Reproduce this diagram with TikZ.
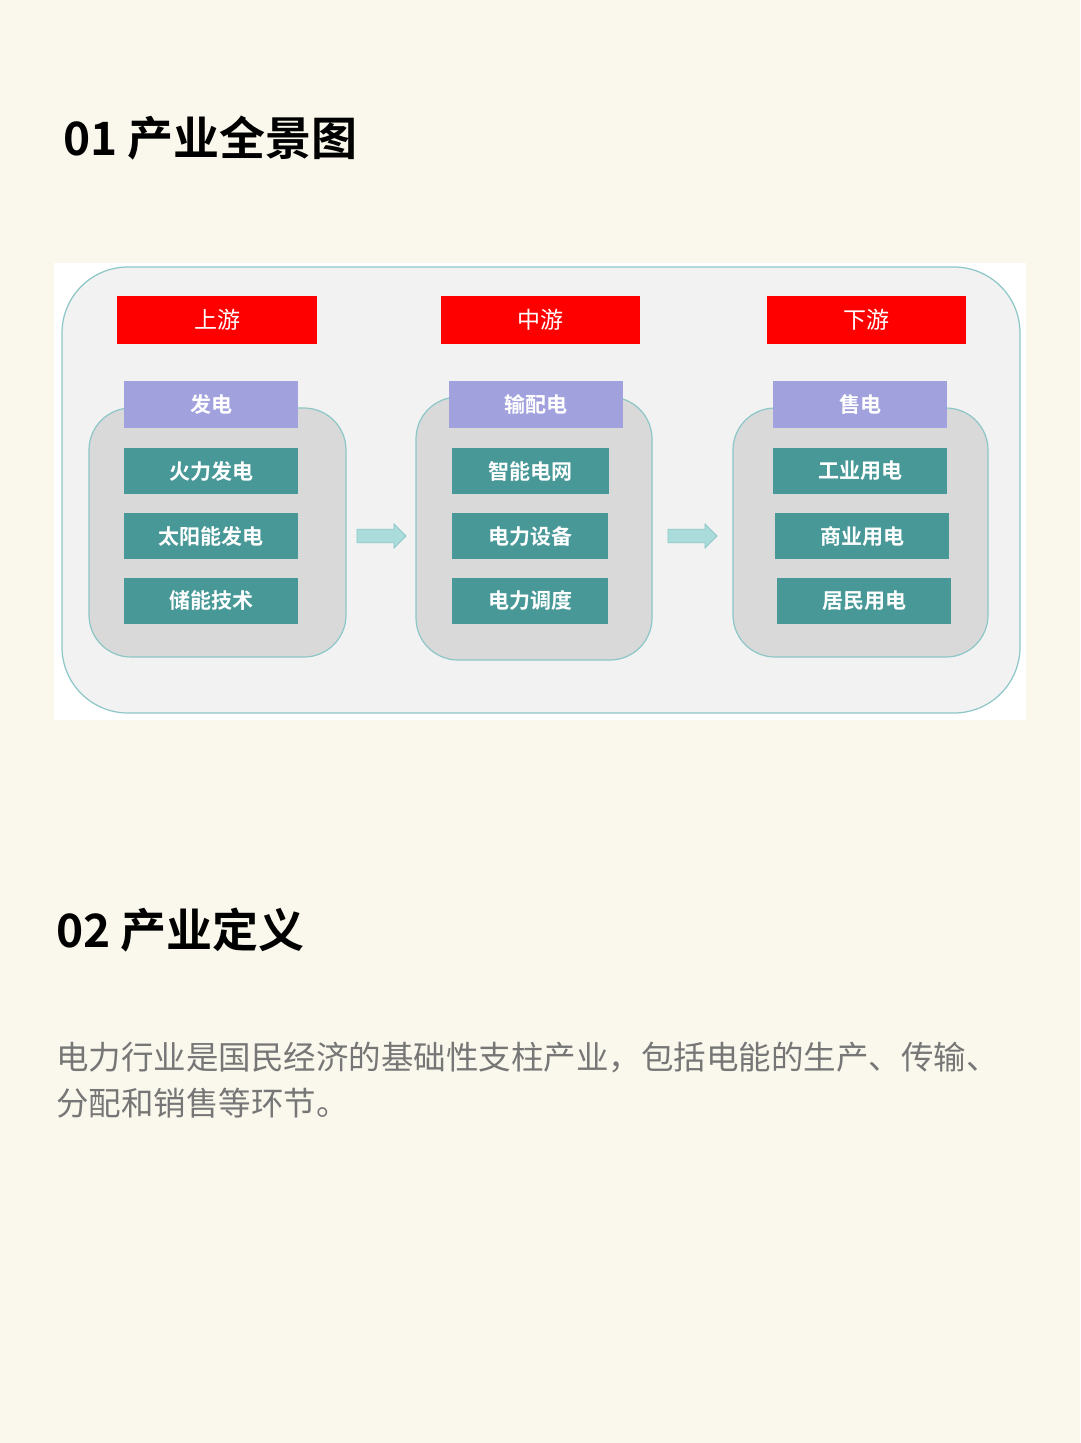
\documentclass[tikz,border=0pt]{standalone}
\usepackage{fontspec}
\setmainfont{Noto Sans CJK SC}[BoldFont={Noto Sans CJK SC Bold}]
\usepackage{xcolor}
\usepackage{tikz}
\usetikzlibrary{shapes.arrows, positioning}
\definecolor{pagecream}{RGB}{250,248,236}
\definecolor{panelgray}{RGB}{242,242,242}
\definecolor{groupgray}{RGB}{217,217,217}
\definecolor{edgeteal}{RGB}{140,198,198}
\definecolor{stagered}{RGB}{255,0,0}
\definecolor{headpurple}{RGB}{161,161,222}
\definecolor{itemteal}{RGB}{72,152,152}
\definecolor{arrowteal}{RGB}{170,220,220}
\definecolor{bodygray}{RGB}{118,118,118}

\begin{document}
\begin{tikzpicture}[
  x=1pt, y=-1pt,
  stagebox/.style={fill=stagered, minimum width=200pt, minimum height=48pt,
                   inner sep=0pt, text=white, font=\fontsize{23}{26}\selectfont},
  groupbox/.style={draw=edgeteal, line width=1.2pt, fill=groupgray,
                   rounded corners=42pt, inner sep=0pt},
  headbox/.style={fill=headpurple, minimum width=174pt, minimum height=47pt,
                  inner sep=0pt, text=white, font=\fontsize{21}{24}\selectfont\bfseries},
  itembox/.style={fill=itemteal, minimum width=174pt, minimum height=46pt,
                  inner sep=0pt, text=white, font=\fontsize{21}{24}\selectfont\bfseries},
  flowarrow/.style={single arrow, draw=edgeteal, fill=arrowteal, line width=0.8pt,
                    minimum height=49pt, minimum width=24pt, inner sep=6pt,
                    single arrow head extend=5pt},
  heading/.style={anchor=west, inner sep=0pt, font=\fontsize{46}{50}\selectfont\bfseries},
]

%% Page and panel
\useasboundingbox[fill=pagecream] (0,0) rectangle (1080,1443);
\fill[white] (54,263) rectangle (1026,720);
\draw[draw=edgeteal, line width=1.2pt, fill=panelgray, rounded corners=66pt]
  (62,267) rectangle (1020,713);

%% Titles
\node[heading] (title1) at (63,138) {01 产业全景图};
\node[heading] (title2) at (56,930) {02 产业定义};

%% Stage banners
\node[stagebox] (up)   at (217,320) {上游};
\node[stagebox, minimum width=199pt] (mid)  at (540,320) {中游};
\node[stagebox, minimum width=199pt] (down) at (866,320) {下游};

%% Group backgrounds
\node[groupbox, minimum width=257pt, minimum height=249pt] (grp1) at (217.5,532.5) {};
\node[groupbox, minimum width=236pt, minimum height=263pt] (grp2) at (534,528.5) {};
\node[groupbox, minimum width=255pt, minimum height=249pt] (grp3) at (860.5,532.5) {};

%% Column 1: generation
\node[headbox] (gen) at (211,404.5) {发电};
\node[itembox] (thermal) at (211,471) {火力发电};
\node[itembox, below=19pt of thermal] (solar)   {太阳能发电};
\node[itembox, below=18pt of solar]   (storage) {储能技术};

%% Column 2: transmission
\node[headbox] (trans) at (536,404.5) {输配电};
\node[itembox, minimum width=157pt] (grid) at (530,471) {智能电网};
\node[itembox, minimum width=156pt, below=19pt of grid] (equip)    {电力设备};
\node[itembox, minimum width=156pt, below=18pt of equip] (dispatch) {电力调度};

%% Column 3: sales
\node[headbox] (sales) at (860,404.5) {售电};
\node[itembox] (industry) at (860,471) {工业用电};
\node[itembox, below=19pt of industry, xshift=2pt] (commerce) {商业用电};
\node[itembox, below=18pt of commerce, xshift=2pt] (resident) {居民用电};

%% Flow arrows
\node[flowarrow, right=10pt of grp1, yshift=-3.5pt] (flow1) {};
\node[flowarrow, right=15pt of grp2, yshift=-7.5pt] (flow2) {};

%% Definition text
\node[anchor=north west, inner sep=0pt, align=left, text=bodygray,
      font=\fontsize{32.5}{46}\selectfont] (deftext) at (56,1042)
  {电力行业是国民经济的基础性支柱产业，包括电能的生产、传输、\\分配和销售等环节。};

\end{tikzpicture}
\end{document}
